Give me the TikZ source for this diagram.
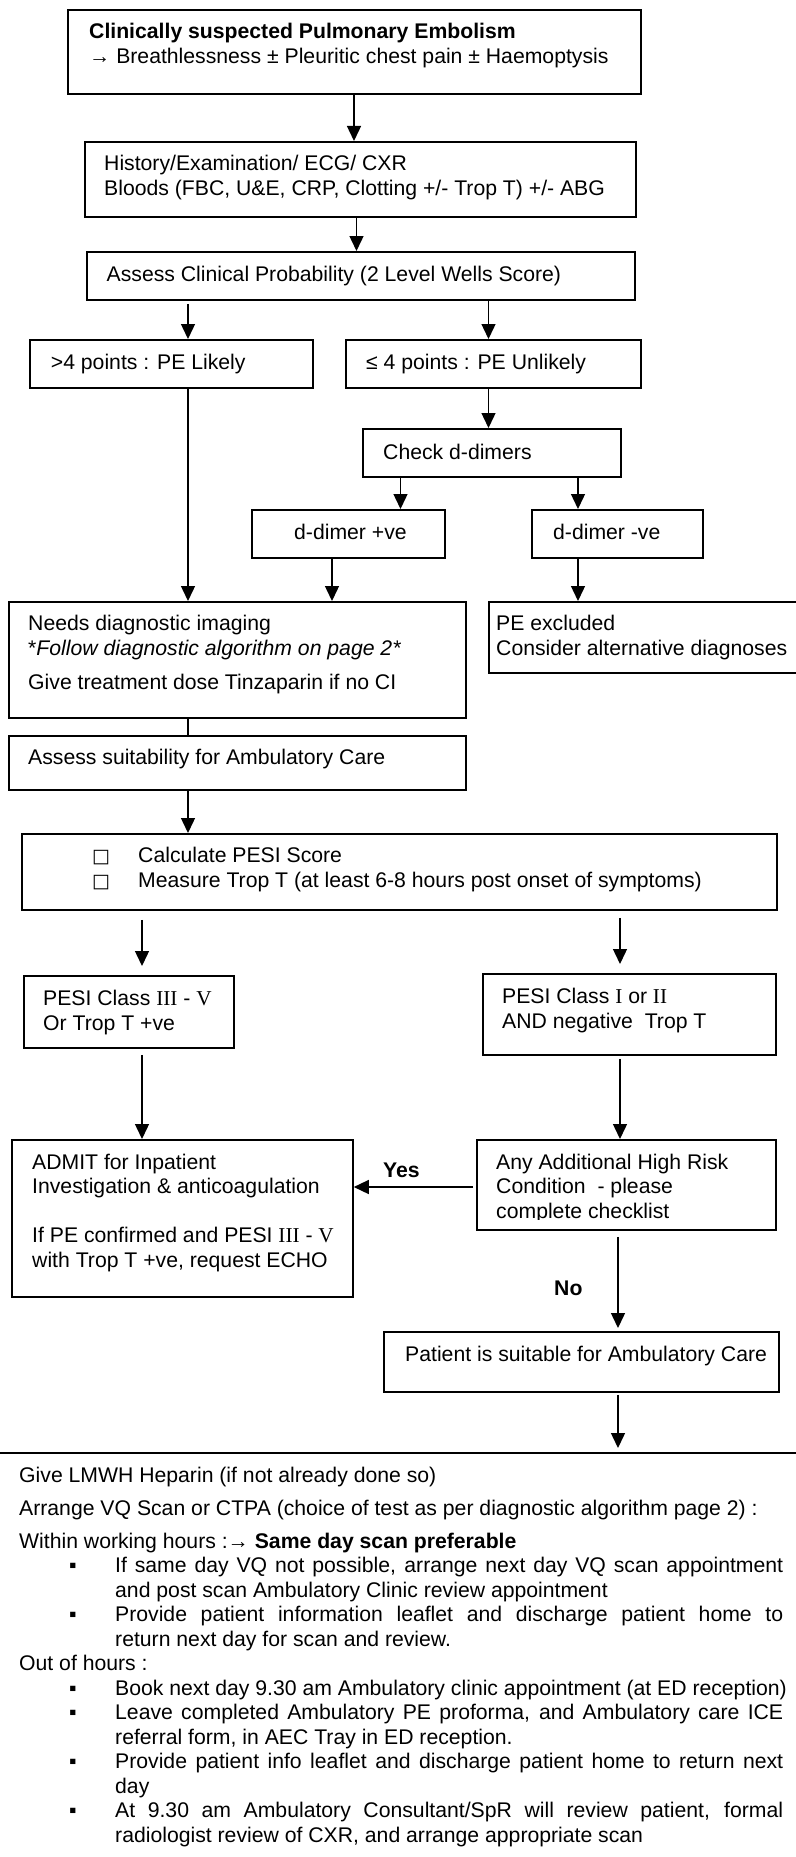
\documentclass[tikz,border=0pt]{standalone}
\usepackage{fontspec}
\setmainfont{Liberation Sans}
\newfontfamily\romfont{Liberation Serif}
\newfontfamily\symfont{DejaVu Sans}
\usetikzlibrary{arrows.meta}
\newcommand\fs{\fontsize{21.2}{24.5}\selectfont}
\newcommand\rn[1]{{\romfont #1}}
\newcommand\chk{\makebox[46pt][l]{\symfont\bfseries\fontsize{19}{24.5}\selectfont □}}
\newcommand\bul{\hspace*{50pt}\makebox[46pt][l]{▪}}
\newcommand\ind{\hspace*{96pt}}
\newcommand\jline[1]{\makebox[668pt][s]{#1}}
\tikzset{box/.style={rectangle,draw,line width=1.8pt,inner sep=0pt,anchor=north west},
  txt/.style={anchor=base west,align=left,inner sep=0pt,font=\fs},
  lbl/.style={anchor=base west,inner sep=0pt,font=\fs\bfseries},
  line/.style={-{Triangle[length=15pt,width=14pt]},line width=1.4pt}}

\begin{document}
\begin{tikzpicture}[x=1pt,y=-1pt]
\useasboundingbox (0,0) rectangle (795,1857);
% boxes
\node[box,minimum width=573pt,minimum height=84pt] (top) at (67,9) {};
\node[box,minimum width=551pt,minimum height=75pt] (hist) at (84,141) {};
\node[box,minimum width=548pt,minimum height=48pt] (assess) at (86,251) {};
\node[box,minimum width=283pt,minimum height=48pt] (likely) at (29,339) {};
\node[box,minimum width=295pt,minimum height=48pt] (unlikely) at (345,339) {};
\node[box,minimum width=258pt,minimum height=48pt] (check) at (362,428) {};
\node[box,minimum width=193pt,minimum height=48pt] (dpos) at (251,509) {};
\node[box,minimum width=171pt,minimum height=48pt] (dneg) at (531,509) {};
\node[box,minimum width=457pt,minimum height=116pt] (needs) at (8,601) {};
\node[box,minimum width=317pt,minimum height=71pt] (excl) at (488,601) {};
\node[box,minimum width=457pt,minimum height=54pt] (suit) at (8,735) {};
\node[box,minimum width=755pt,minimum height=76pt] (pesi) at (21,833) {};
\node[box,minimum width=210pt,minimum height=72pt] (high) at (23,975) {};
\node[box,minimum width=293pt,minimum height=81pt] (low) at (482,973) {};
\node[box,minimum width=341pt,minimum height=157pt] (admit) at (11,1139) {};
\node[box,minimum width=299pt,minimum height=90pt] (any) at (476,1139) {};
\node[box,minimum width=395pt,minimum height=60pt] (amb) at (383,1331) {};
\node[box,minimum width=815pt,minimum height=430pt] (steps) at (-10,1452) {};

% texts (base = last line)
\node[txt] (top-t) at (89,63.3) {\textbf{Clinically suspected Pulmonary Embolism}\\
  → Breathlessness ± Pleuritic chest pain ± Haemoptysis};
\node[txt] (hist-t) at (104,195) {History/Examination/ ECG/ CXR\\
  Bloods (FBC, U\&E, CRP, Clotting +/- Trop T) +/- ABG};
\node[txt] (assess-t) at (106.5,281.7) {Assess Clinical Probability (2 Level Wells Score)};
\node[txt] (likely-t) at (50.7,369) {>4 points : PE Likely};
\node[txt] (unlikely-t) at (366,369) {≤ 4 points : PE Unlikely};
\node[txt] (check-t) at (383,459.3) {Check d-dimers};
\node[txt] (dpos-t) at (294,539) {d-dimer +ve};
\node[txt] (dneg-t) at (553,539) {d-dimer -ve};
\node[txt] (needs-t) at (28,689.3) {Needs diagnostic imaging\\
  *\textit{Follow diagnostic algorithm on page 2*}\\[9.8pt]
  Give treatment dose Tinzaparin if no CI};
\node[txt] (excl-t) at (496,655) {PE excluded\\ Consider alternative diagnoses};
\node[txt] (suit-t) at (28,764.3) {Assess suitability for Ambulatory Care};
\node[txt] (pesi-t) at (92,887) {\chk Calculate PESI Score\\
  \chk Measure Trop T (at least 6-8 hours post onset of symptoms)};
\node[txt] (high-t) at (43,1030) {PESI Class \rn{III} - \rn{V}\\ Or Trop T +ve};
\node[txt] (low-t) at (502,1028) {PESI Class \rn{I} or \rn{II}\\ AND negative\ \ Trop T};
\node[txt] (admit-t) at (32,1267) {ADMIT for Inpatient\\ Investigation \& anticoagulation\\[24.5pt]
  If PE confirmed and PESI \rn{III} - \rn{V}\\ with Trop T +ve, request ECHO};
\begin{scope}
\clip (476,1139) rectangle (775,1219);
\node[txt] (any-t) at (496,1218) {Any Additional High Risk\\ Condition\ \ - please\\ complete checklist};
\end{scope}
\node[txt] (amb-t) at (405,1361) {Patient is suitable for Ambulatory Care};
\node[lbl] (yes) at (383,1177) {Yes};
\node[lbl] (no) at (554,1295) {No};
\node[txt] (steps-t) at (19,1842) {Give LMWH Heparin (if not already done so)\\[8.5pt]
  Arrange VQ Scan or CTPA (choice of test as per diagnostic algorithm page 2) :\\[8.5pt]
  Within working hours :→ \textbf{Same day scan preferable}\\
  \bul\jline{If same day VQ not possible, arrange next day VQ scan appointment}\\
  \ind and post scan Ambulatory Clinic review appointment\\
  \bul\jline{Provide patient information leaflet and discharge patient home to}\\
  \ind return next day for scan and review.\\
  Out of hours :\\
  \bul Book next day 9.30 am Ambulatory clinic appointment (at ED reception)\\
  \bul\jline{Leave completed Ambulatory PE proforma, and Ambulatory care ICE}\\
  \ind referral form, in AEC Tray in ED reception.\\
  \bul\jline{Provide patient info leaflet and discharge patient home to return next}\\
  \ind day\\
  \bul\jline{At 9.30 am Ambulatory Consultant/SpR will review patient, formal}\\
  \ind radiologist review of CXR, and arrange appropriate scan};

% connector columns
\coordinate (xa) at (354,0);
\coordinate (xb) at (356.5,0);
\coordinate (xl) at (188,0);
\coordinate (xu) at (488.5,0);
\coordinate (xp) at (400.5,0);
\coordinate (xn) at (578,0);
\coordinate (xq) at (332,0);
\coordinate (xh) at (142,0);
\coordinate (xr) at (620,0);
\coordinate (xs) at (618,0);
\coordinate (yy) at (0,1187);

% connectors
\draw[line] (top.south -| xa) -- (hist.north -| xa);
\draw[line] (hist.south -| xb) -- (assess.north -| xb);
\draw[line,shorten <=3pt] (assess.south -| xl) -- (likely.north -| xl);
\draw[line] (assess.south -| xu) -- (unlikely.north -| xu);
\draw[line] (likely.south -| xl) -- (needs.north -| xl);
\draw[line] (unlikely.south -| xu) -- (check.north -| xu);
\draw[line] (check.south -| xp) -- (dpos.north -| xp);
\draw[line] (check.south -| xn) -- (dneg.north -| xn);
\draw[line] (dpos.south -| xq) -- (needs.north -| xq);
\draw[line] (dneg.south -| xn) -- (excl.north -| xn);
\draw[line width=1.4pt] (needs.south -| xl) -- (suit.north -| xl);
\draw[line] (suit.south -| xl) -- (pesi.north -| xl);
\draw[line,shorten <=9pt,shorten >=9pt] (pesi.south -| xh) -- (high.north -| xh);
\draw[line,shorten <=7pt,shorten >=9pt] (pesi.south -| xr) -- (low.north -| xr);
\draw[line,shorten <=6pt] (high.south -| xh) -- (admit.north -| xh);
\draw[line,shorten <=3pt] (low.south -| xr) -- (any.north -| xr);
\draw[line,shorten <=3pt] (any.west |- yy) -- (admit.east |- yy);
\draw[line,shorten <=6pt,shorten >=3pt] (any.south -| xs) -- (amb.north -| xs);
\draw[line,shorten <=2pt,shorten >=4pt] (amb.south -| xs) -- (steps.north -| xs);
\end{tikzpicture}
\end{document}
